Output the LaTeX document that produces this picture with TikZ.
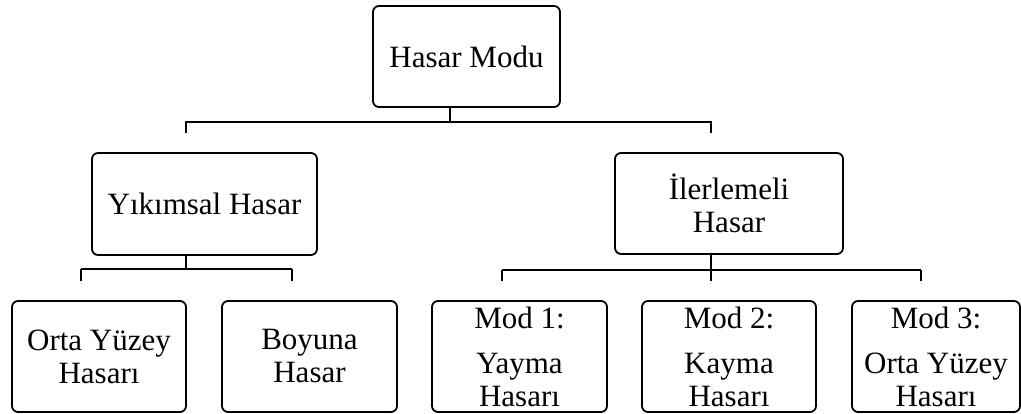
\documentclass[tikz,border=0pt]{standalone}
\usepackage{fontspec}
\setmainfont{Liberation Serif}
\begin{document}
\begin{tikzpicture}[x=1pt,y=-1pt,
  box/.style={draw, line width=1.8pt, rounded corners=6pt, align=center, inner sep=0pt,
    font=\fontsize{31}{33}\selectfont},
  conn/.style={line width=2pt},
  stub/.style={line width=1.6pt}]
\useasboundingbox (0,0) rectangle (1021,414);
% nodes
\node[box, minimum width=187pt, minimum height=101pt] (hm) at (466.5,56.5) {Hasar Modu};
\node[box, minimum width=225pt, minimum height=102pt] (yh) at (204.5,204) {Yıkımsal Hasar};
\node[box, minimum width=228pt, minimum height=101pt] (ih) at (729,203.5) {İlerlemeli\\Hasar};
\node[box, minimum width=174pt, minimum height=111pt] (oy) at (99,356.5) {Orta Yüzey\\Hasarı};
\node[box, minimum width=175pt, minimum height=111pt] (bh) at (309.5,356.5) {Boyuna\\Hasar};
\node[box, minimum width=175pt, minimum height=111pt] (m1) at (519.5,356.5) {Mod 1:\\[12pt]Yayma\\Hasarı};
\node[box, minimum width=174pt, minimum height=111pt] (m2) at (729,356.5) {Mod 2:\\[12pt]Kayma\\Hasarı};
\node[box, minimum width=168pt, minimum height=111pt] (m3) at (936,356.5) {Mod 3:\\[12pt]Orta Yüzey\\Hasarı};
% top connector
\coordinate (c0) at (450,122);
\coordinate (t1) at (186,122);
\coordinate (t2) at (711,122);
\draw[conn] (hm.south -| c0) -- (c0);
\draw[conn] (t1) ++(0,11) -- (t1) -- (t2) -- ++(0,11);
% left lower connector
\coordinate (c1) at (186,269);
\coordinate (l1) at (81,269);
\coordinate (l2) at (292,269);
\draw[stub] (yh.south -| c1) -- (c1);
\draw[conn] (l1) -- (l2);
\draw[stub] (l1) -- ++(0,12);
\draw[stub] (l2) -- ++(0,12);
% right lower connector
\coordinate (c2) at (711,270);
\coordinate (r1) at (502,270);
\coordinate (r2) at (921,270);
\draw[stub] (ih.south -| c2) -- (c2) -- ++(0,11);
\draw[conn] (r1) -- (r2);
\draw[stub] (r1) -- ++(0,11);
\draw[stub] (r2) -- ++(0,11);
\end{tikzpicture}
\end{document}
